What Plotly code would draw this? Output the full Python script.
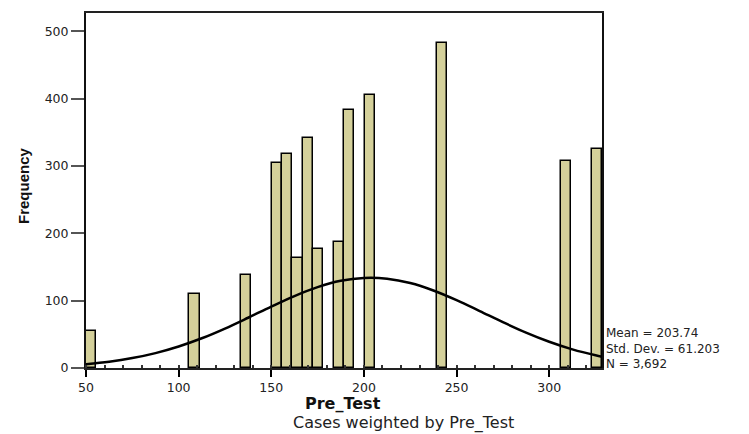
import plotly.graph_objects as go

# ---- data ----
bin_centers = [52.79, 108.49, 136.34, 153.05, 158.62, 164.19, 169.76, 175.33,
               186.47, 192.04, 203.18, 242.17, 309.01, 325.72]
frequencies = [55, 110, 138, 305, 318, 164, 341, 177, 187, 383, 405, 482, 307, 325]
bin_width = 5.57

curve_x = [50, 62.5, 75, 87.5, 100, 112.5, 125, 137.5, 150, 162.5, 175, 187.5,
           200, 212.5, 225, 237.5, 250, 262.5, 275, 287.5, 300, 312.5, 325, 328.5]
curve_y = [5.7, 9.3, 14.7, 22.1, 31.9, 44.1, 58.6, 74.6, 91.1, 106.8, 120.0, 129.4,
           133.7, 132.6, 126.2, 115.1, 100.7, 84.5, 68.0, 52.5, 38.9, 27.6, 18.8, 16.8]

stats_lines = ["Mean = 203.74", "Std. Dev. = 61.203", "N = 3,692"]
x_ticks = [50, 100, 150, 200, 250, 300]
y_ticks = [0, 100, 200, 300, 400, 500]

FONT = "DejaVu Sans"
OFF = 8  # page body margin in the browser
W, H = 749 - OFF, 434 - OFF
PLOT_L, PLOT_R, PLOT_T, PLOT_B = 86, 602, 13, 368  # screenshot pixels
PW, PH = PLOT_R - PLOT_L, PLOT_B - PLOT_T

fig = go.Figure()
fig.add_trace(go.Bar(
    x=bin_centers, y=frequencies, width=bin_width,
    marker=dict(color="#D4D09A", line=dict(color="#000000", width=1.5)),
    showlegend=False, hoverinfo="x+y",
))
fig.add_trace(go.Scatter(
    x=curve_x, y=curve_y, mode="lines", line=dict(color="#000000", width=2.5, shape="spline"),
    showlegend=False, hoverinfo="skip",
))

fig.update_layout(
    width=W, height=H,
    margin=dict(l=PLOT_L - OFF, r=W - (PLOT_R - OFF), t=PLOT_T - OFF, b=H - (PLOT_B - OFF),
                autoexpand=False),
    paper_bgcolor="white", plot_bgcolor="white",
    bargap=0,
    font=dict(family=FONT, size=12, color="#222222"),
    xaxis=dict(
        range=[50, 328.5], tickvals=x_ticks, ticks="outside", ticklen=7, tickwidth=1.5,
        tickcolor="#000000", showgrid=False, zeroline=False, automargin=False,
        showline=True, linecolor="#222222", linewidth=1.5, mirror=True,
        tickfont=dict(family=FONT, size=12.5, color="#222222"),
        minor=dict(dtick=10, ticks="inside", ticklen=3, tickcolor="#333333", showgrid=False),
    ),
    yaxis=dict(
        range=[0, 527], tickvals=y_ticks, ticks="outside", ticklen=13, tickwidth=1.5,
        tickcolor="#555555", showgrid=False, zeroline=False, automargin=False,
        showline=True, linecolor="#111111", linewidth=2, mirror=True,
        tickfont=dict(family=FONT, size=12.5, color="#222222"),
    ),
)


def px_x(x):
    return (x - PLOT_L) / PW


def px_y(y):
    return (PLOT_B - y) / PH


ann = []
ann.append(dict(text="<b>Frequency</b>", xref="paper", yref="paper",
                x=px_x(23), y=px_y(186), textangle=-90, showarrow=False,
                xanchor="center", yanchor="middle",
                font=dict(family="Liberation Sans", size=15, color="#111111")))
ann.append(dict(text="<b>Pre_Test</b>", xref="paper", yref="paper",
                x=px_x(343), y=px_y(403), showarrow=False, xanchor="center", yanchor="middle",
                font=dict(family=FONT, size=16, color="#111111")))
ann.append(dict(text="Cases weighted by Pre_Test", xref="paper", yref="paper",
                x=px_x(403), y=px_y(422.5), showarrow=False, xanchor="center", yanchor="middle",
                font=dict(family=FONT, size=16, color="#222222")))
ann.append(dict(text="<br>".join(stats_lines), xref="paper", yref="paper",
                x=px_x(604), y=px_y(348), showarrow=False, xanchor="left", yanchor="middle",
                align="left", font=dict(family=FONT, size=12, color="#222222")))
fig.update_layout(annotations=ann)

fig.write_html("out.html")
